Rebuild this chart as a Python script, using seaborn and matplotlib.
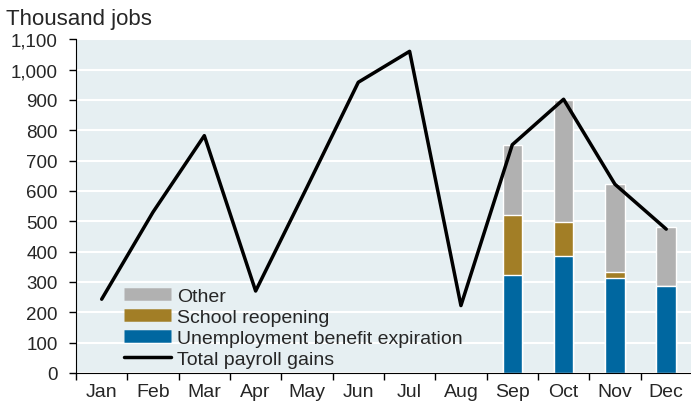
import numpy as np
import pandas as pd
import seaborn as sns
import matplotlib.pyplot as plt
from matplotlib.lines import Line2D
from matplotlib.ticker import FuncFormatter

months = ['Jan', 'Feb', 'Mar', 'Apr', 'May', 'Jun', 'Jul', 'Aug', 'Sep', 'Oct', 'Nov', 'Dec']
total_gains = [243, 530, 782, 270, 612, 958, 1060, 222, 752, 902, 622, 474]
unemployment = [0, 0, 0, 0, 0, 0, 0, 0, 322, 387, 314, 286]
school = [0, 0, 0, 0, 0, 0, 0, 0, 197, 112, 20, 0]
other = [0, 0, 0, 0, 0, 0, 0, 0, 233, 402, 288, 196]

c_unemp = '#0067a0'
c_school = '#a27e26'
c_other = '#b1b1b1'
bg = '#e6eff2'

df = pd.DataFrame({'month': months, 'unemp': unemployment,
                   'school': school, 'other': other})
df['school_top'] = df['unemp'] + df['school']
df['other_top'] = df['school_top'] + df['other']

sns.set_style('ticks')
plt.rcParams['font.family'] = ['Liberation Sans', 'DejaVu Sans']

fig, ax = plt.subplots(figsize=(6.91, 4.06), dpi=100)
fig.subplots_adjust(left=0.11, right=1.005, top=0.901, bottom=0.079)
ax.set_facecolor(bg)

# stacked bars, tallest layer first
for col, color in [('other_top', c_other), ('school_top', c_school), ('unemp', c_unemp)]:
    sns.barplot(data=df, x='month', y=col, order=months, color=color, width=0.38,
                edgecolor='white', linewidth=1, saturation=1, ax=ax, zorder=2)

sns.lineplot(x=np.arange(len(months)), y=total_gains, color='black', linewidth=2.5,
             ax=ax, zorder=3)

ax.set_ylim(0, 1100)
ax.set_xlim(-0.5, 11.55)
ax.set_yticks(np.arange(0, 1101, 100))
ax.yaxis.set_major_formatter(FuncFormatter(lambda v, p: '{:,.0f}'.format(v)))
ax.grid(axis='y', color='white', linewidth=1.5, zorder=0)
ax.set_axisbelow(True)
ax.set_xlabel('')
ax.set_ylabel('')

ax.set_xticks(np.arange(len(months)))
ax.set_xticklabels(months)
ax.set_xticks(np.arange(-0.5, 12, 1), minor=True)
ax.tick_params(axis='x', which='major', length=0, labelsize=14, pad=7)
ax.tick_params(axis='x', which='minor', length=5, width=1, color='black')
ax.tick_params(axis='y', length=5, width=1, color='black', labelsize=13.5, pad=8)

sns.despine(ax=ax, top=True, right=True)
ax.spines['left'].set_color('black')
ax.spines['bottom'].set_color('black')

fig.text(0.008, 0.925, 'Thousand jobs', fontsize=16, ha='left', va='bottom')

handles = [Line2D([], [], color=c_other, linewidth=9, solid_capstyle='butt'),
           Line2D([], [], color=c_school, linewidth=9, solid_capstyle='butt'),
           Line2D([], [], color=c_unemp, linewidth=9, solid_capstyle='butt'),
           Line2D([], [], color='black', linewidth=2.5)]
labels = ['Other', 'School reopening', 'Unemployment benefit expiration',
          'Total payroll gains']
ax.legend(handles, labels, loc='lower left', bbox_to_anchor=(0.058, -0.02),
          frameon=False, fontsize=14, handlelength=2.45, handletextpad=0.3,
          labelspacing=0.17, borderaxespad=0.2)

plt.savefig('out.png', dpi=100)
plt.close()
